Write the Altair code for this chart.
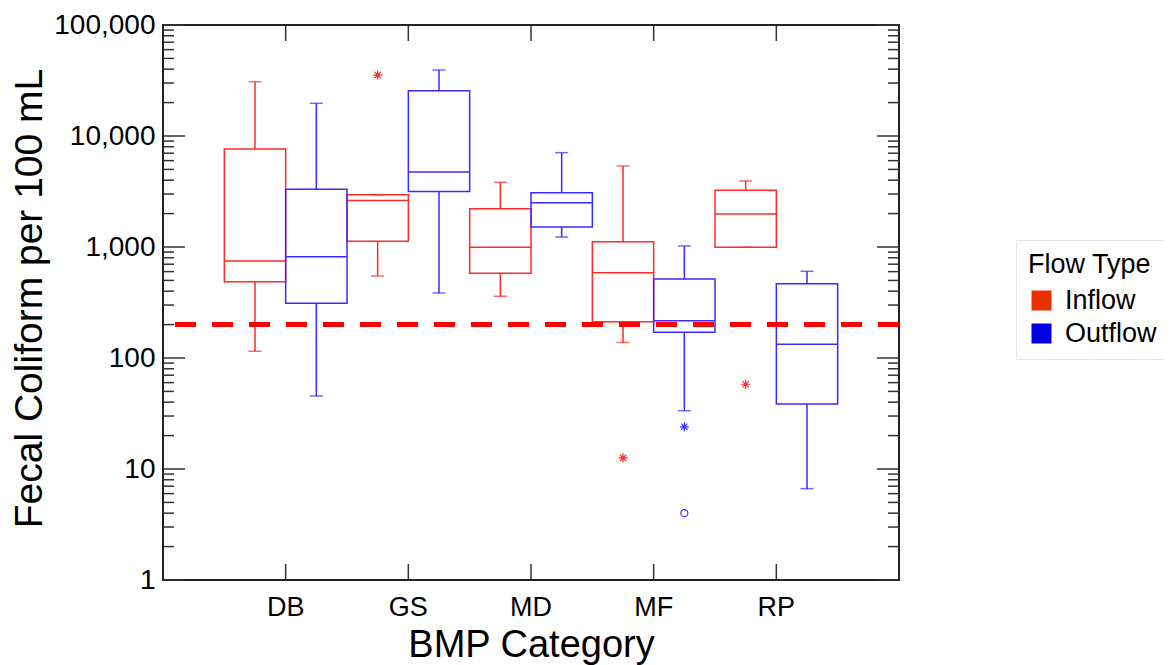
import altair as alt
import pandas as pd

# ---------------- data ----------------
CATEGORIES = ["DB", "GS", "MD", "MF", "RP"]
FLOWS = ["Inflow", "Outflow"]

BOX_CAT = ["DB", "DB", "GS", "GS", "MD", "MD", "MF", "MF", "RP", "RP"]
BOX_FLOW = ["Inflow", "Outflow", "Inflow", "Outflow", "Inflow", "Outflow",
            "Inflow", "Outflow", "Inflow", "Outflow"]
LOWER = [115, 45.5, 548, 385, 360, 1230, 138, 33.5, 994, 6.65]
Q1 = [487, 311, 1125, 3170, 580, 1514, 212, 171, 994, 38.5]
MEDIAN = [748, 818, 2630, 4740, 994, 2507, 587, 217, 1983, 133]
Q3 = [7640, 3310, 2960, 25600, 2214, 3085, 1116, 515, 3243, 467]
UPPER = [30800, 19700, 2960, 39300, 3830, 7080, 5370, 1021, 3935, 604]

OUT_CAT = ["GS", "MF", "MF", "MF", "RP"]
OUT_FLOW = ["Inflow", "Inflow", "Outflow", "Outflow", "Inflow"]
OUT_VALUE = [35400, 12.6, 24, 4.0, 58]
OUT_KIND = ["star", "star", "star", "circle", "star"]

THRESHOLD = [200]

Y_MAJOR = [1, 10, 100, 1000, 10000, 100000]
Y_MINOR = [2, 3, 4, 5, 6, 7, 8, 9,
           20, 30, 40, 50, 60, 70, 80, 90,
           200, 300, 400, 500, 600, 700, 800, 900,
           2000, 3000, 4000, 5000, 6000, 7000, 8000, 9000,
           20000, 30000, 40000, 50000, 60000, 70000, 80000, 90000]

# ---------------- styling ----------------
LINE_COLORS = {"Inflow": "#ff2a2a", "Outflow": "#3a2aff"}
LEGEND_COLORS = ["#e83000", "#0000e0"]
W, H = 736, 555
FONT = "Liberation Sans"
TICK_COLOR = "#333333"
STAR = "M-1,0L1,0M0,-1L0,1M-0.7,-0.7L0.7,0.7M-0.7,0.7L0.7,-0.7"

box_df = pd.DataFrame(dict(cat=BOX_CAT, flow=BOX_FLOW, lower=LOWER, q1=Q1,
                           median=MEDIAN, q3=Q3, upper=UPPER))
out_df = pd.DataFrame(dict(cat=OUT_CAT, flow=OUT_FLOW, value=OUT_VALUE, kind=OUT_KIND))
thr_df = pd.DataFrame(dict(v=THRESHOLD))
ymaj_df = pd.DataFrame(dict(v=Y_MAJOR))
ymin_df = pd.DataFrame(dict(v=Y_MINOR))
xt_df = pd.DataFrame(dict(cat=CATEGORIES))
leg_df = pd.DataFrame(dict(flow=FLOWS))

xs = alt.Scale(domain=CATEGORIES, paddingInner=0, paddingOuter=0.5)
xos = alt.Scale(domain=FLOWS, paddingInner=0, paddingOuter=0)
ys = alt.Scale(type="log", domain=[1, 100000], nice=False)

x_axis = alt.Axis(title="BMP Category", labelFont=FONT, titleFont=FONT,
                  labelFontSize=27, labelPadding=14,
                  ticks=False, domain=False, grid=False, labelAngle=0,
                  titleFontSize=38, titleFontWeight="normal", titleX=W / 2, titleY=76,
                  titleAlign="center", titleBaseline="alphabetic",
                  labelColor="black", titleColor="black")
y_axis = alt.Axis(title="Fecal Coliform per 100 mL", values=Y_MAJOR, format=",",
                  labelFont=FONT, titleFont=FONT,
                  labelFontSize=28, labelPadding=8, ticks=False,
                  domain=False, grid=False, titleFontSize=39, titleFontWeight="normal",
                  titleX=-134, titleY=273, titleAlign="center",
                  titleBaseline="middle", labelColor="black", titleColor="black")

X = alt.X("cat:N", scale=xs, axis=x_axis)
XO = alt.XOffset("flow:N", scale=xos)


def Y(field):
    return alt.Y(f"{field}:Q", scale=ys, axis=y_axis)


layers = []

# inward frame ticks (positions come from the scales)
for df, x0, x1 in [(ymaj_df, 0, 22), (ymin_df, 0, 11),
                   (ymaj_df, W - 22, W), (ymin_df, W - 11, W)]:
    layers.append(alt.Chart(df).mark_rule(color=TICK_COLOR, strokeWidth=1.5).encode(
        y=Y("v"), x=alt.value(x0), x2=alt.value(x1)))
for y0, y1 in [(H - 16, H), (0, 16)]:
    layers.append(alt.Chart(xt_df).mark_rule(color=TICK_COLOR, strokeWidth=1.5).encode(
        x=X, y=alt.value(y0), y2=alt.value(y1)))

# box plots, one set of layers per flow type
for flow in FLOWS:
    col = LINE_COLORS[flow]
    b = alt.Chart(box_df).transform_filter(alt.datum.flow == flow)
    layers += [
        b.mark_rule(color=col, strokeWidth=1.5).encode(x=X, xOffset=XO, y=Y("lower"), y2="q1:Q"),
        b.mark_rule(color=col, strokeWidth=1.5).encode(x=X, xOffset=XO, y=Y("q3"), y2="upper:Q"),
        b.mark_tick(color=col, size=13, thickness=1.5).encode(x=X, xOffset=XO, y=Y("lower")),
        b.mark_tick(color=col, size=13, thickness=1.5).encode(x=X, xOffset=XO, y=Y("upper")),
        b.mark_bar(filled=False, color=col, strokeWidth=1.5).encode(
            x=X, xOffset=XO, y=Y("q1"), y2="q3:Q"),
        b.mark_bar(filled=False, color=col, strokeWidth=1.5).encode(
            x=X, xOffset=XO, y=Y("median"), y2="median:Q"),
    ]
    o = alt.Chart(out_df).transform_filter(alt.datum.flow == flow)
    layers += [
        o.transform_filter(alt.datum.kind == "star").mark_point(
            shape=STAR, size=81, strokeWidth=1.2, filled=False, opacity=1, color=col).encode(
            x=X, xOffset=XO, y=Y("value")),
        o.transform_filter(alt.datum.kind == "circle").mark_point(
            shape="circle", size=50, strokeWidth=1.2, filled=False, opacity=1, color=col).encode(
            x=X, xOffset=XO, y=Y("value")),
    ]

# reference line
layers.append(alt.Chart(thr_df).mark_rule(
    color="#ff0000", strokeWidth=5, strokeDash=[21, 16], strokeDashOffset=21).encode(
    y=Y("v"), x=alt.value(-4), x2=alt.value(W + 11)))

# legend carrier (invisible squares; only its legend is shown)
layers.append(alt.Chart(leg_df).mark_square(size=400, opacity=0).encode(
    x=alt.value(W / 2), y=alt.value(H / 2),
    fill=alt.Fill("flow:N", scale=alt.Scale(domain=FLOWS, range=LEGEND_COLORS),
                  legend=alt.Legend(title="Flow Type", orient="none", legendX=853,
                                    legendY=215, direction="vertical",
                                    titleFont=FONT, labelFont=FONT,
                                    titleFontSize=27, titleFontWeight="normal",
                                    titleColor="black", labelFontSize=27,
                                    labelColor="black", symbolType="square",
                                    symbolSize=400, symbolStrokeWidth=0,
                                    symbolOpacity=1,
                                    labelOffset=10, rowPadding=5, titlePadding=8,
                                    padding=12, strokeColor="#e6e6e6",
                                    fillColor="white"))))

chart = alt.layer(*layers).properties(
    width=W, height=H,
    padding={"left": 155, "top": 17, "right": 264, "bottom": 85},
    autosize=alt.AutoSizeParams(type="none"),
).configure_view(stroke="#222222", strokeWidth=2)

chart.save("out.html", embed_options={"renderer": "svg", "actions": False})
